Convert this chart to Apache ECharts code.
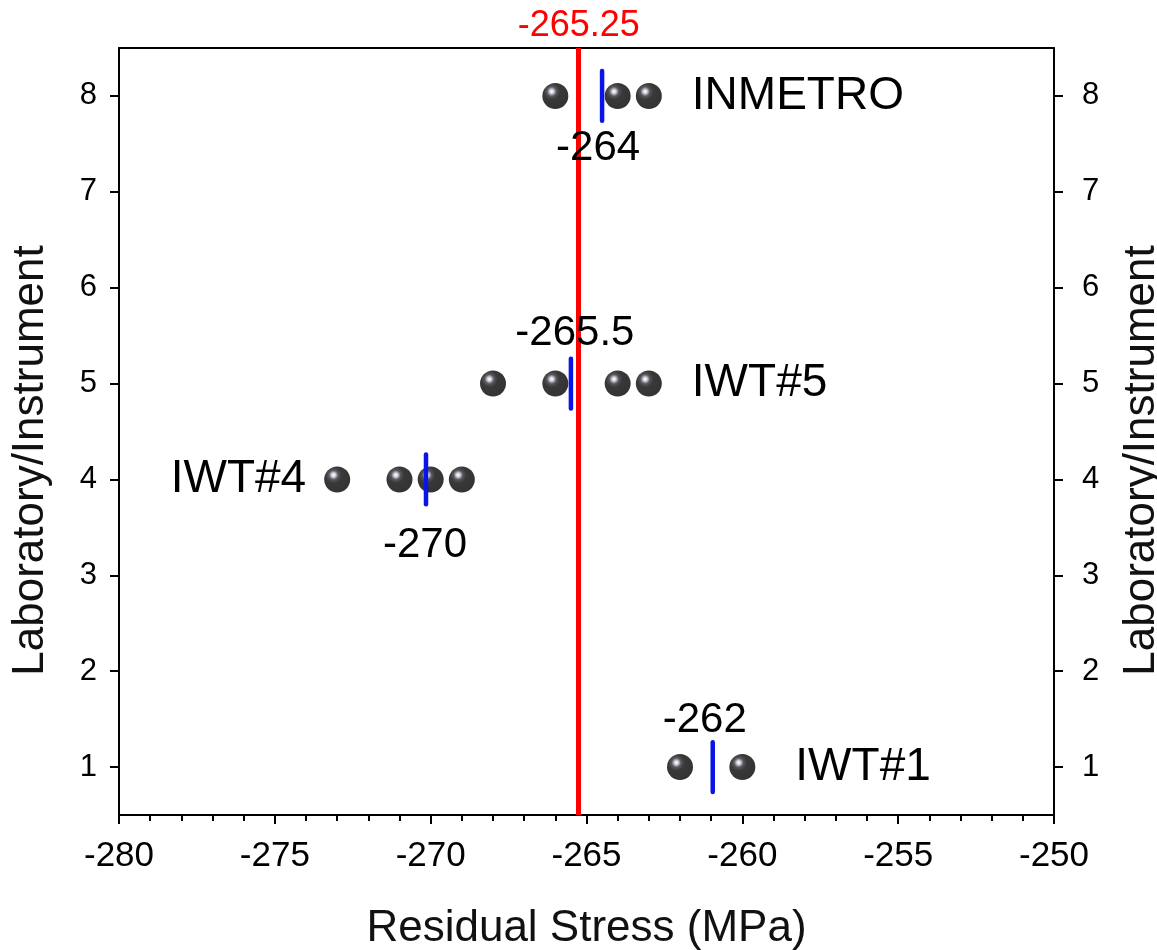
<!DOCTYPE html>
<html>
<head>
<meta charset="utf-8">
<script src="https://cdn.jsdelivr.net/npm/echarts@6/dist/echarts.min.js"></script>
<style>
  html, body { margin: 0; padding: 0; background: #fff; }
  #chart { width: 1157px; height: 950px; }
</style>
</head>
<body>
<div id="chart"></div>
<script>
// Residual stress readings per laboratory / instrument (MPa)
const rowPositions = [8, 5, 4, 1];
const instrumentNames = ['INMETRO', 'IWT#5', 'IWT#4', 'IWT#1'];
const stressINMETRO = [-266, -264, -263];
const stressIWT5 = [-268, -266, -264, -263];
const stressIWT4 = [-273, -271, -270, -269];
const stressIWT1 = [-262, -260];
const meanMarks = [-264.5, -265.5, -270.15, -260.95];
const meanLabels = ['-264', '-265.5', '-270', '-262'];
const referenceValue = -265.25;
const xTickValues = [-280, -275, -270, -265, -260, -255, -250];
const yTickValues = [1, 2, 3, 4, 5, 6, 7, 8];

const stressGroups = [stressINMETRO, stressIWT5, stressIWT4, stressIWT1];

// scatter points: [stress, row]
const pointData = [];
stressGroups.forEach((vals, i) => vals.forEach(v => pointData.push([v, rowPositions[i]])));

// mean markers: [stress, row, groupIndex]
const meanData = meanMarks.map((v, i) => [v, rowPositions[i], i]);

// annotation layout (pixel offsets from marks)
const valueLabelOffset = [[-4, 52], [4, -50], [-1, 66], [-8, -47]];
const nameSide = ['right', 'right', 'left', 'right'];
const nameGapPx = [43, 43, 31, 53];

const FONT = 'Liberation Sans, Arial, sans-serif';

const chart = echarts.init(document.getElementById('chart'), null, { renderer: 'canvas' });

// glossy black ball
const sphereColor = {
  type: 'radial', x: 0.36, y: 0.33, r: 0.7,
  colorStops: [
    { offset: 0, color: '#ffffff' },
    { offset: 0.1, color: '#d0d0de' },
    { offset: 0.26, color: '#2c2c34' },
    { offset: 0.45, color: '#070707' },
    { offset: 1, color: '#000000' }
  ]
};

const axisNameStyle = { fontFamily: FONT, fontSize: 44, color: '#111' };
const yNameStyle = { fontFamily: FONT, fontSize: 44, color: '#111', padding: [0, 58, 0, 0] };

chart.setOption({
  animation: false,
  backgroundColor: '#ffffff',
  grid: { left: 119, right: 103, top: 48, bottom: 135, outerBoundsMode: 'none', containLabel: false },
  xAxis: [
    {
      type: 'value', position: 'bottom',
      min: -280, max: -250, interval: 5,
      name: 'Residual Stress (MPa)', nameLocation: 'middle', nameGap: 92,
      nameTextStyle: axisNameStyle,
      axisLine: { show: true, onZero: false, lineStyle: { color: '#000', width: 2 } },
      axisTick: { show: true, length: 9, lineStyle: { color: '#000', width: 2 } },
      minorTick: { show: true, splitNumber: 5, length: 6, lineStyle: { color: '#000', width: 2 } },
      axisLabel: { margin: 24, fontFamily: FONT, fontSize: 35, color: '#000',
                   customValues: xTickValues },
      splitLine: { show: false }
    },
    {
      type: 'value', position: 'top',
      min: -280, max: -250, interval: 5,
      axisLine: { show: true, onZero: false, lineStyle: { color: '#000', width: 2 } },
      axisTick: { show: false }, axisLabel: { show: false }, splitLine: { show: false }
    }
  ],
  yAxis: [
    {
      type: 'value', position: 'left', min: 0.5, max: 8.5,
      name: 'Laboratory/Instrument', nameLocation: 'middle', nameGap: 66,
      nameTextStyle: yNameStyle,
      axisLine: { show: true, onZero: false, lineStyle: { color: '#000', width: 2 } },
      axisTick: { show: true, length: 9, customValues: yTickValues, lineStyle: { color: '#000', width: 2 } },
      axisLabel: { margin: 22, fontFamily: FONT, fontSize: 31, color: '#000', customValues: yTickValues },
      splitLine: { show: false }
    },
    {
      type: 'value', position: 'right', min: 0.5, max: 8.5,
      name: 'Laboratory/Instrument', nameLocation: 'middle', nameGap: 66,
      nameTextStyle: yNameStyle,
      axisLine: { show: true, onZero: false, lineStyle: { color: '#000', width: 2 } },
      axisTick: { show: true, length: 9, customValues: yTickValues, lineStyle: { color: '#000', width: 2 } },
      axisLabel: { margin: 28, fontFamily: FONT, fontSize: 31, color: '#000', customValues: yTickValues },
      splitLine: { show: false }
    }
  ],
  series: [
    {
      // individual readings
      type: 'scatter',
      xAxisIndex: 0, yAxisIndex: 0,
      symbol: 'circle', symbolSize: 26,
      itemStyle: { color: sphereColor },
      data: pointData,
      z: 3,
      markLine: {
        silent: true, symbol: 'none',
        lineStyle: { color: '#ff0000', width: 5, type: 'solid' },
        label: { show: true, position: 'end', distance: 4, formatter: String(referenceValue),
                 fontFamily: FONT, fontSize: 36, color: '#ff0000' },
        data: [{ xAxis: referenceValue }]
      }
    },
    {
      // group mean markers
      type: 'custom',
      xAxisIndex: 0, yAxisIndex: 0,
      z: 5,
      data: meanData,
      renderItem: function (params, api) {
        const x = api.value(0), y = api.value(1);
        const p1 = api.coord([x, y + 0.26]);
        const p2 = api.coord([x, y - 0.26]);
        return {
          type: 'line',
          shape: { x1: p1[0], y1: p1[1], x2: p2[0], y2: p2[1] },
          style: { stroke: '#0a14e6', lineWidth: 4.5, lineCap: 'round' }
        };
      }
    },
    {
      // value and name annotations
      type: 'custom',
      xAxisIndex: 0, yAxisIndex: 0,
      z: 6,
      data: meanData,
      renderItem: function (params, api) {
        const i = api.value(2);
        const x = api.value(0), y = api.value(1);
        const c = api.coord([x, y]);
        const off = valueLabelOffset[i];
        const vals = stressGroups[i];
        let nameEl;
        if (nameSide[i] === 'right') {
          const pr = api.coord([Math.max.apply(null, vals), y]);
          nameEl = { type: 'text', x: pr[0] + nameGapPx[i], y: pr[1],
            style: { text: instrumentNames[i], font: '46px ' + FONT, fill: '#000',
                     align: 'left', verticalAlign: 'middle' } };
        } else {
          const pl = api.coord([Math.min.apply(null, vals), y]);
          nameEl = { type: 'text', x: pl[0] - nameGapPx[i], y: pl[1],
            style: { text: instrumentNames[i], font: '46px ' + FONT, fill: '#000',
                     align: 'right', verticalAlign: 'middle' } };
        }
        return {
          type: 'group',
          children: [
            { type: 'text', x: c[0] + off[0], y: c[1] + off[1],
              style: { text: meanLabels[i], font: '42px ' + FONT, fill: '#000',
                       align: 'center', verticalAlign: 'middle' } },
            nameEl
          ]
        };
      }
    }
  ]
});
</script>
</body>
</html>
